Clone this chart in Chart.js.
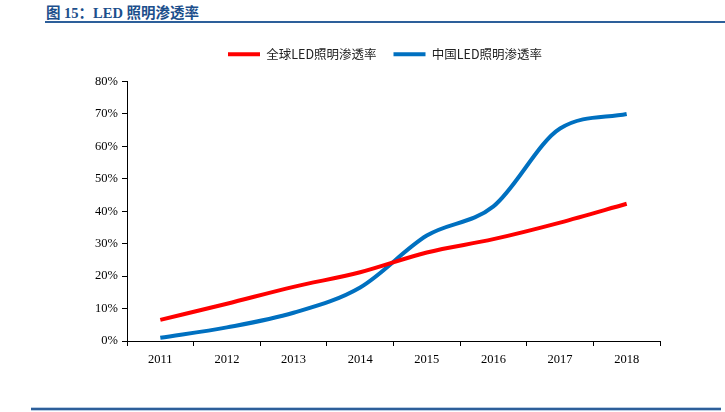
<!DOCTYPE html>
<html>
<head>
<meta charset="utf-8">
<script src="https://cdn.jsdelivr.net/npm/chart.js@4.4.0/dist/chart.umd.min.js"></script>
<style>
  body { margin: 0; background: #fff; width: 725px; height: 412px; overflow: hidden; position: relative; }
  #title { position: absolute; left: 46px; top: 1px; font: bold 14.5px "Liberation Serif", "Noto Sans CJK SC", serif; color: #1c4f8c; }
  #topline { position: absolute; left: 45px; right: 0; top: 21px; height: 2px; background: #2d5f9a; }
  #bottomline { position: absolute; left: 31px; width: 690px; top: 407px; height: 2px; background: #2d5f9a; border-top: 1px solid #b9cde4; border-bottom: 1px solid #b9cde4; }
  #wrap { position: absolute; left: 0; top: 8px; width: 725px; height: 365px; }
</style>
</head>
<body>
<div id="title">图 15：LED 照明渗透率</div>
<div id="topline"></div>
<div id="wrap"><canvas id="chart"></canvas></div>
<div id="bottomline"></div>
<script>
const years = ['2011', '2012', '2013', '2014', '2015', '2016', '2017', '2018'];
const globalRate = [6.5, 11.5, 16.7, 21.2, 27.3, 31.4, 36.5, 42.3];
const chinaRate = [1.0, 4.2, 8.7, 16.5, 32.5, 41.5, 65.5, 70.0];

const tickFont = { family: '"Liberation Serif", "Times New Roman", serif', size: 12.5 };

// extra gap under the legend, and nudge it right
const legendTweak = {
    id: 'legendTweak',
    beforeInit(chart) {
        const fit = chart.legend.fit;
        chart.legend.fit = function () {
            fit.bind(chart.legend)();
            this.height += 11;
        };
    },
    afterLayout(chart) {
        chart.legend.left += 14;
        chart.legend.right += 14;
    }
};

new Chart(document.getElementById('chart').getContext('2d'), {
    type: 'line',
    data: {
        labels: years,
        datasets: [{
            label: '全球LED照明渗透率',
            data: globalRate,
            borderColor: '#ff0000',
            backgroundColor: '#ff0000',
            borderWidth: 4,
            pointRadius: 0,
            cubicInterpolationMode: 'monotone'
        }, {
            label: '中国LED照明渗透率',
            data: chinaRate,
            borderColor: '#0070c0',
            backgroundColor: '#0070c0',
            borderWidth: 4,
            pointRadius: 0,
            cubicInterpolationMode: 'monotone'
        }]
    },
    options: {
        responsive: true,
        maintainAspectRatio: false,
        animation: false,
        layout: { padding: { left: 82, right: 65, top: 23, bottom: 0 } },
        plugins: {
            legend: {
                position: 'top',
                labels: {
                    boxWidth: 32,
                    boxHeight: 4,
                    padding: 17,
                    color: '#222',
                    font: { family: '"Noto Sans CJK SC", serif', size: 12.5 },
                    generateLabels: function (chart) {
                        return Chart.defaults.plugins.legend.labels.generateLabels(chart)
                            .map(l => Object.assign(l, { lineWidth: 0 }));
                    }
                }
            },
            tooltip: { enabled: false }
        },
        scales: {
            x: {
                offset: true,
                grid: { display: true, drawOnChartArea: false, offset: true, tickLength: 5, color: '#000' },
                border: { color: '#000', width: 1 },
                ticks: { color: '#000', font: tickFont, padding: 6 }
            },
            y: {
                min: 0,
                max: 80,
                afterFit: function (s) { s.width = 45; },
                grid: { display: true, drawOnChartArea: false, tickLength: 5, color: '#000' },
                border: { color: '#000', width: 1 },
                ticks: {
                    stepSize: 10,
                    color: '#000',
                    font: tickFont,
                    padding: 4,
                    callback: function (v) { return v + '%'; }
                }
            }
        }
    },
    plugins: [legendTweak]
});
</script>
</body>
</html>
